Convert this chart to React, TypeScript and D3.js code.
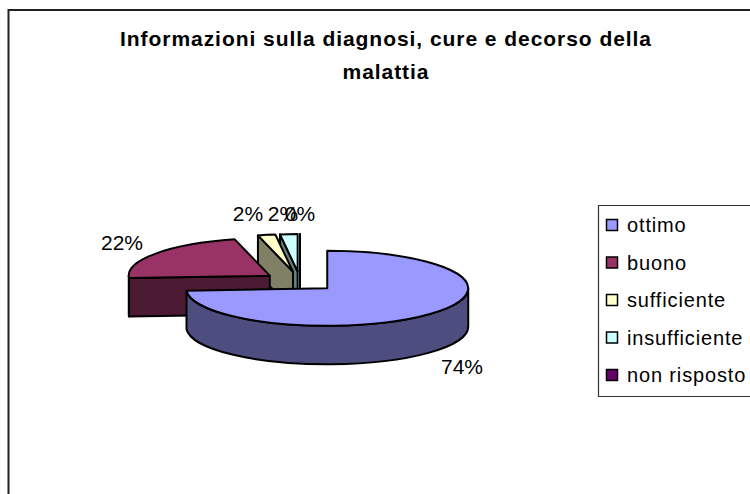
import React from "react";
import * as d3 from "d3";

const categories = ["ottimo", "buono", "sufficiente", "insufficiente", "non risposto"];
const values = [74, 22, 2, 2, 0];
const percentLabels = ["74%", "22%", "2%", "2%", "0%"];
const topColors = ["#9999ff", "#993366", "#ffffcc", "#ccffff", "#660066"];
const sideColors = ["#4d4d80", "#4d1a33", "#808066", "#668080", "#330033"];
const titleLines = ["Informazioni sulla diagnosi, cure e decorso della", "malattia"];

const W = 750, H = 494;
const cx = 300, cy = 281.5, rx = 141, ry = 37.5, depth = 38.5, explode = 0.265;
const FONT = "'Liberation Sans', Arial, sans-serif";

const pie = d3.pie<number>().sort(null).value((d) => d);
const arcs = pie(values);

const pt = (ox: number, oy: number, a: number): [number, number] => [
  ox + rx * Math.sin(a),
  oy - ry * Math.cos(a),
];

const slices = arcs.map((a, i) => {
  const mid = (a.startAngle + a.endAngle) / 2;
  const ox = cx + explode * rx * Math.sin(mid);
  const oy = cy - explode * ry * Math.cos(mid);
  return { i, a0: a.startAngle, a1: a.endAngle, ox, oy, mid };
});

function ellipseArc(from: number, to: number, ox: number, oy: number, sweep: 0 | 1) {
  const [x, y] = pt(ox, oy, to);
  const large = Math.abs(to - from) > Math.PI ? 1 : 0;
  return `A${rx},${ry} 0 ${large} ${sweep} ${x},${y}`;
}

function topPath(s: (typeof slices)[number]) {
  const [x0, y0] = pt(s.ox, s.oy, s.a0);
  return `M${s.ox},${s.oy}L${x0},${y0}${ellipseArc(s.a0, s.a1, s.ox, s.oy, 1)}Z`;
}

function cutFace(s: (typeof slices)[number]) {
  const [x0, y0] = pt(s.ox, s.oy, s.a0);
  const p = d3.path();
  p.moveTo(s.ox, s.oy);
  p.lineTo(x0, y0);
  p.lineTo(x0, y0 + depth);
  p.lineTo(s.ox, s.oy + depth);
  p.closePath();
  return p.toString();
}

function outerWall(s: (typeof slices)[number]) {
  const from = Math.max(s.a0, Math.PI / 2);
  const to = Math.min(s.a1, (3 * Math.PI) / 2);
  if (to <= from) return null;
  const [x0, y0] = pt(s.ox, s.oy, from);
  const [x1, y1] = pt(s.ox, s.oy, to);
  return `M${x0},${y0}${ellipseArc(from, to, s.ox, s.oy, 1)}L${x1},${y1 + depth}${ellipseArc(
    to,
    from,
    s.ox,
    s.oy + depth,
    0
  )}Z`;
}

const order = [4, 3, 2, 1, 0];
const labelPos: [number, number][] = [
  [462, 374],
  [122, 250],
  [248, 221],
  [283, 221],
  [300, 221],
];
const legendY = d3.scalePoint<string>().domain(categories).range([225, 375]);

export default function App() {
  return (
    <svg
      width={W}
      height={H}
      style={{ position: "absolute", left: 0, top: 0, background: "#fff" }}
      fontFamily={FONT}
    >
      <path d={`M8.5,${H}V10H${W}`} fill="none" stroke="#222" strokeWidth={2} />
      <text textAnchor="middle" fontWeight="bold" fontSize={21} letterSpacing={0.95} fill="#000">
        <tspan x={386} y={46}>{titleLines[0]}</tspan>
        <tspan x={386} y={79}>{titleLines[1]}</tspan>
      </text>
      <g stroke="#000" strokeWidth={2} strokeLinejoin="round">
        {order.map((i) => {
          const s = slices[i];
          const wall = outerWall(s);
          return (
            <g key={categories[i]}>
              {i !== 0 && <path d={cutFace(s)} fill={sideColors[i]} />}
              {wall && <path d={wall} fill={sideColors[i]} />}
              <path d={topPath(s)} fill={topColors[i]} />
            </g>
          );
        })}
      </g>
      <g fontSize={21} fill="#000" textAnchor="middle">
        {percentLabels.map((t, i) => (
          <text key={i} x={labelPos[i][0]} y={labelPos[i][1]}>{t}</text>
        ))}
      </g>
      <path d={`M${W},205.5H598.5V396.5H${W}`} fill="#fff" stroke="#333" strokeWidth={1.2} />
      {categories.map((c, i) => (
        <g key={c}>
          <rect
            x={606.5}
            y={(legendY(c) as number) - 5.5}
            width={11}
            height={11}
            fill={topColors[i]}
            stroke="#000"
            strokeWidth={1.5}
          />
          <text x={627} y={(legendY(c) as number) + 7} fontSize={20} letterSpacing={0.85} fill="#000">{c}</text>
        </g>
      ))}
    </svg>
  );
}
